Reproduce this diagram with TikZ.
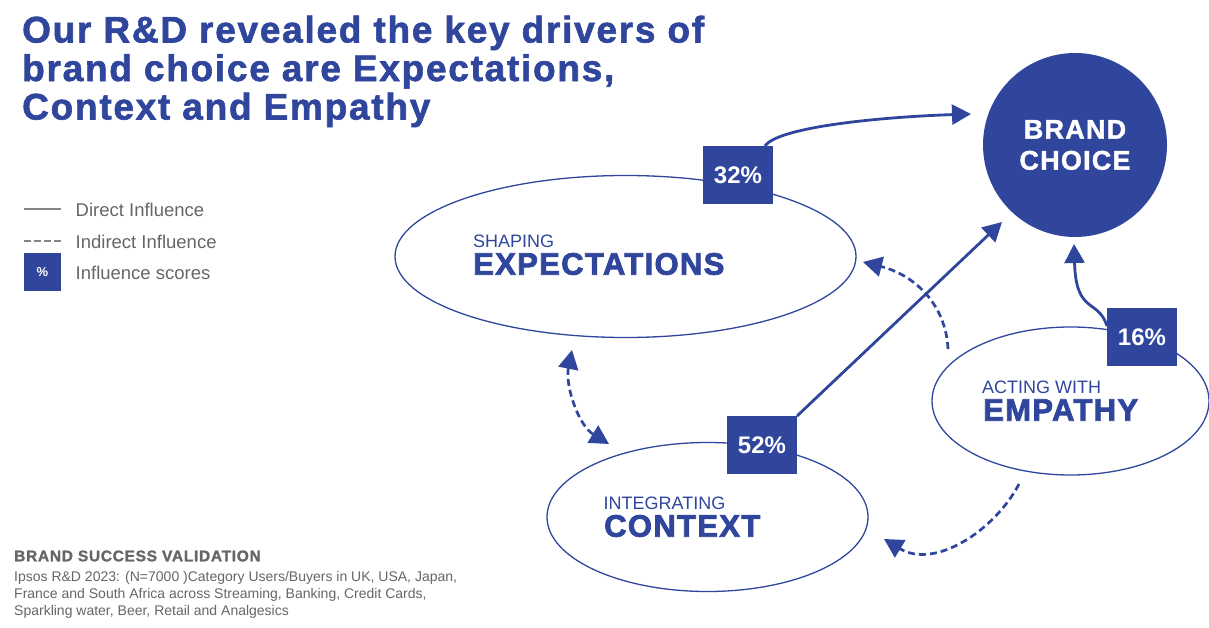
\documentclass[tikz,border=0pt]{standalone}
\usepackage{fontspec}
\setmainfont{Liberation Sans}
\newfontface\heavy{Liberation Sans Bold}[FakeBold=2.6,LetterSpace=4.3]
\newfontface\heavyb{Liberation Sans Bold}[FakeBold=1.6,LetterSpace=4.7]
\newfontface\heavyc{Liberation Sans Bold}[FakeBold=1.4,LetterSpace=4.5]
\usetikzlibrary{arrows.meta,shapes.geometric}
\definecolor{ipsos}{HTML}{2F469C}
\definecolor{greytxt}{HTML}{666666}
\tikzset{
  oval/.style={draw=ipsos,line width=1.3pt,fill=white,ellipse},
  pct/.style={fill=ipsos,text=white,minimum width=70pt,minimum height=58pt,inner sep=0pt,font=\fontsize{24}{24}\selectfont\bfseries},
  direct/.style={draw=ipsos,line width=2.8pt,-{Triangle[length=19pt,width=20pt]}},
  indirect/.style={draw=ipsos,line width=2.7pt,dash pattern=on 7pt off 4pt,-{Triangle[length=19pt,width=20pt]}},
  small/.style={anchor=west,inner sep=0pt,text=ipsos,font=\fontsize{18}{18}\selectfont},
  big/.style={anchor=west,inner sep=0pt,text=ipsos,font=\fontsize{31}{31}\selectfont\heavy},
  legendtxt/.style={anchor=west,inner sep=0pt,text=greytxt,font=\fontsize{18.5}{18.5}\selectfont},
  note/.style={anchor=west,inner sep=0pt,text=greytxt,font=\fontsize{14}{14}\selectfont},
}
\begin{document}
\begin{tikzpicture}[x=1pt,y=-1pt]
\useasboundingbox (0,0) rectangle (1209,628);
% ovals
\node[oval,minimum width=461pt,minimum height=162pt,inner sep=0pt] (exp) at (625.5,256.5) {};
\node[oval,minimum width=321pt,minimum height=149pt,inner sep=0pt] (ctx) at (707.5,517) {};
\node[oval,minimum width=277pt,minimum height=148pt,inner sep=0pt] (emp) at (1070.5,401) {};
\node[circle,fill=ipsos,minimum size=184pt,inner sep=0pt] (brand) at (1075,145) {};
% free ends
\coordinate (a32s) at (765,146);
\coordinate (a32e) at (971,114);
\coordinate (a52s) at (797,416);
\coordinate (a52e) at (1002,222);
\coordinate (a16s) at (1107,326);
\coordinate (a16e) at (1074,244);
\coordinate (d1s) at (948,349);
\coordinate (d1e) at (863,262);
\coordinate (d2s) at (572,350);
\coordinate (d2e) at (609,444);
\coordinate (d3s) at (1019,484);
\coordinate (d3e) at (884,539);
% connectors
\draw[direct] (a32s) .. controls (778,127) and (880,117) .. (a32e);
\draw[direct] (a52s) -- (a52e);
\draw[direct] (a16s) .. controls (1098,298) and (1076,315) .. (a16e);
\draw[indirect] (d1s) .. controls (946,305) and (915,275) .. (d1e);
\draw[indirect,{Triangle[length=19pt,width=20pt]}-{Triangle[length=19pt,width=20pt]}] (d2s) .. controls (565,385) and (578,425) .. (d2e);
\draw[indirect] (d3s) .. controls (995,530) and (935,570) .. (d3e);
% boxes
\node[pct] (p32) at (738,175) {32\%};
\node[pct] (p52) at (762,445) {52\%};
\node[pct] (p16) at (1142,337) {16\%};
% labels
\node[align=center,text=white,inner sep=0pt,font=\fontsize{27}{31}\selectfont\heavyc] (brandt) at (1075,145) {BRAND\\CHOICE};
\node[small] (l1a) at (473,241) {SHAPING};
\node[big] (l1b) at (473,264) {EXPECTATIONS};
\node[small] (l2a) at (603.5,503) {INTEGRATING};
\node[big] (l2b) at (604,526) {CONTEXT};
\node[small] (l3a) at (982,387) {ACTING WITH};
\node[big] (l3b) at (983,410) {EMPATHY};
% title
\node[anchor=north west,inner sep=0pt,text=ipsos,align=left,font=\fontsize{37}{38.5}\selectfont\heavyb] (title) at (22,15.5) {Our R\&D revealed the key drivers of\\brand choice are Expectations,\\Context and Empathy};
% legend
\coordinate (ld1) at (24,209);
\coordinate (ld2) at (61,209);
\coordinate (li1) at (24,241);
\coordinate (li2) at (61,241);
\draw[draw=greytxt!80,line width=2.8pt] (ld1) -- (ld2);
\draw[draw=greytxt!80,line width=2.4pt,dash pattern=on 7pt off 3pt] (li1) -- (li2);
\node[fill=ipsos,text=white,minimum width=37pt,minimum height=37pt,inner sep=0pt,font=\fontsize{13}{13}\selectfont\bfseries] (lp) at (42.5,272) {\%};
\node[legendtxt] (t1) at (75.5,210) {Direct Influence};
\node[legendtxt] (t2) at (75.5,242) {Indirect Influence};
\node[legendtxt] (t3) at (75.5,273) {Influence scores};
% note
\node[anchor=west,inner sep=0pt,text=greytxt,font=\fontsize{15.5}{15.5}\selectfont\heavyc] (n0) at (14,556) {BRAND SUCCESS VALIDATION};
\node[note] (n1) at (14,578) {Ipsos R\&D 2023: (N=7000 )Category Users/Buyers in UK, USA, Japan,};
\node[note] (n2) at (14,595) {France and South Africa across Streaming, Banking, Credit Cards,};
\node[note] (n3) at (14,612) {Sparkling water, Beer, Retail and Analgesics};
\end{tikzpicture}
\end{document}
